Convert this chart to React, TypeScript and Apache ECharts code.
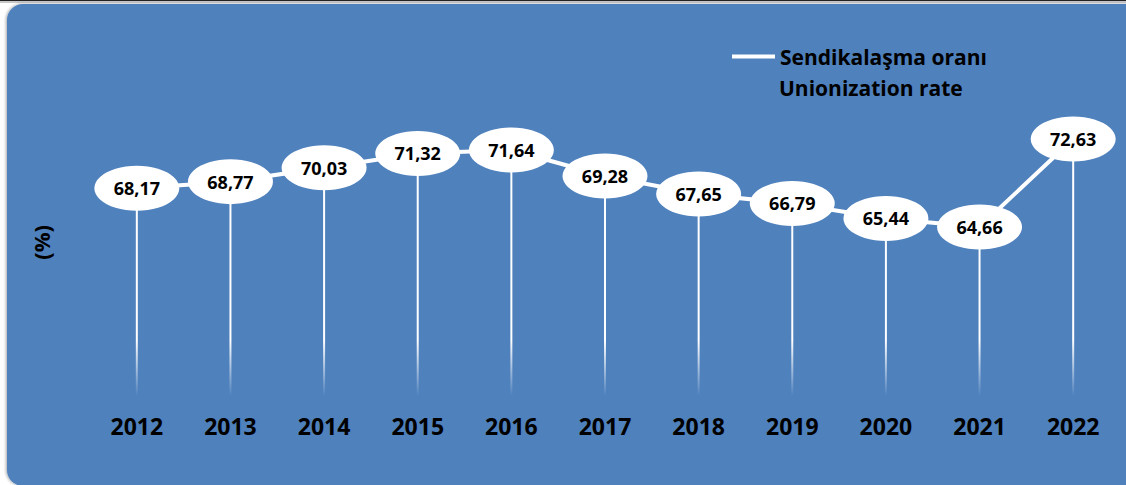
import React, { useEffect, useRef } from "react";
import * as echarts from "echarts";

const years = ["2012", "2013", "2014", "2015", "2016", "2017", "2018", "2019", "2020", "2021", "2022"];
const unionizationRate = [68.17, 68.77, 70.03, 71.32, 71.64, 69.28, 67.65, 66.79, 65.44, 64.66, 72.63];
const seriesName = "Sendikalaşma oranı";
const seriesNameEn = "Unionization rate";
const yAxisName = "(%)";

const FONT = "'Open Sans', 'Noto Sans', sans-serif";
const BLUE = "#4f81bd";

export default function App() {
  const ref = useRef<HTMLDivElement>(null);

  useEffect(() => {
    document.body.style.margin = "0";
    if (!ref.current) return;
    const chart = echarts.init(ref.current, undefined, { renderer: "svg" });
    const fmt = (v: number) => v.toFixed(2).replace(".", ",");

    chart.setOption({
      animation: false,
      backgroundColor: "#ffffff",
      graphic: [
        { type: "rect", z: -10, silent: true, shape: { x: 0, y: 0, width: 1126, height: 1 }, style: { fill: "#222" } },
        { type: "rect", z: -10, silent: true, shape: { x: 0, y: 1, width: 1126, height: 2 }, style: { fill: "#c8c8c8" } },
        {
          type: "rect",
          z: -9,
          silent: true,
          shape: { x: 7, y: 4, width: 1150, height: 482, r: 16 },
          style: { fill: BLUE, shadowBlur: 3, shadowColor: "rgba(0,0,0,0.35)", shadowOffsetX: -1, shadowOffsetY: 0 },
        },
        {
          type: "text",
          z: 10,
          left: 779,
          top: 77,
          style: { text: seriesNameEn, fill: "#000", font: `bold 21px ${FONT}` },
        },
      ],
      legend: {
        show: true,
        left: 727,
        top: 41,
        itemWidth: 43,
        itemHeight: 4,
        icon: "rect",
        data: [{ name: seriesName, icon: "rect", itemStyle: { color: "#ffffff" } }],
        textStyle: { color: "#000", fontWeight: "bold", fontSize: 21, fontFamily: FONT },
      },
      grid: { left: 90, right: 6, top: 68.7, bottom: 85.1, containLabel: false },
      xAxis: {
        type: "category",
        data: years,
        boundaryGap: true,
        axisLine: { show: false },
        axisTick: { show: false },
        axisLabel: { color: "#000", fontWeight: "bold", fontSize: 23, fontFamily: FONT, margin: 15 },
        splitLine: { show: false },
      },
      yAxis: {
        type: "value",
        min: 49,
        max: 79,
        axisLine: { show: false },
        axisTick: { show: false },
        axisLabel: { show: false },
        splitLine: { show: false },
        name: yAxisName,
        nameLocation: "middle",
        nameRotate: 90,
        nameGap: 38,
        nameTextStyle: { color: "#000", fontWeight: "bold", fontSize: 22, fontFamily: FONT, padding: [0, 16, 0, 0] },
      },
      series: [
        {
          type: "bar",
          name: "drop",
          data: unionizationRate,
          barWidth: 2,
          silent: true,
          z: 1,
          itemStyle: {
            color: new echarts.graphic.LinearGradient(
              0, 0, 0, 485,
              [
                { offset: 0, color: "rgba(255,255,255,1)" },
                { offset: 340 / 485, color: "rgba(255,255,255,1)" },
                { offset: 396 / 485, color: "rgba(255,255,255,0)" },
                { offset: 1, color: "rgba(255,255,255,0)" },
              ],
              true
            ),
          },
          tooltip: { show: false },
        },
        {
          type: "line",
          name: seriesName,
          data: unionizationRate,
          z: 3,
          symbol: "circle",
          symbolSize: [85, 45],
          itemStyle: { color: "#ffffff", borderWidth: 0 },
          lineStyle: { color: "#ffffff", width: 4 },
          label: {
            show: true,
            position: "inside",
            formatter: (p: any) => fmt(p.value),
            color: "#000",
            fontWeight: "bold",
            fontSize: 18,
            fontFamily: FONT,
          },
        },
      ],
    });

    return () => chart.dispose();
  }, []);

  return <div ref={ref} style={{ width: 1126, height: 485 }} />;
}
